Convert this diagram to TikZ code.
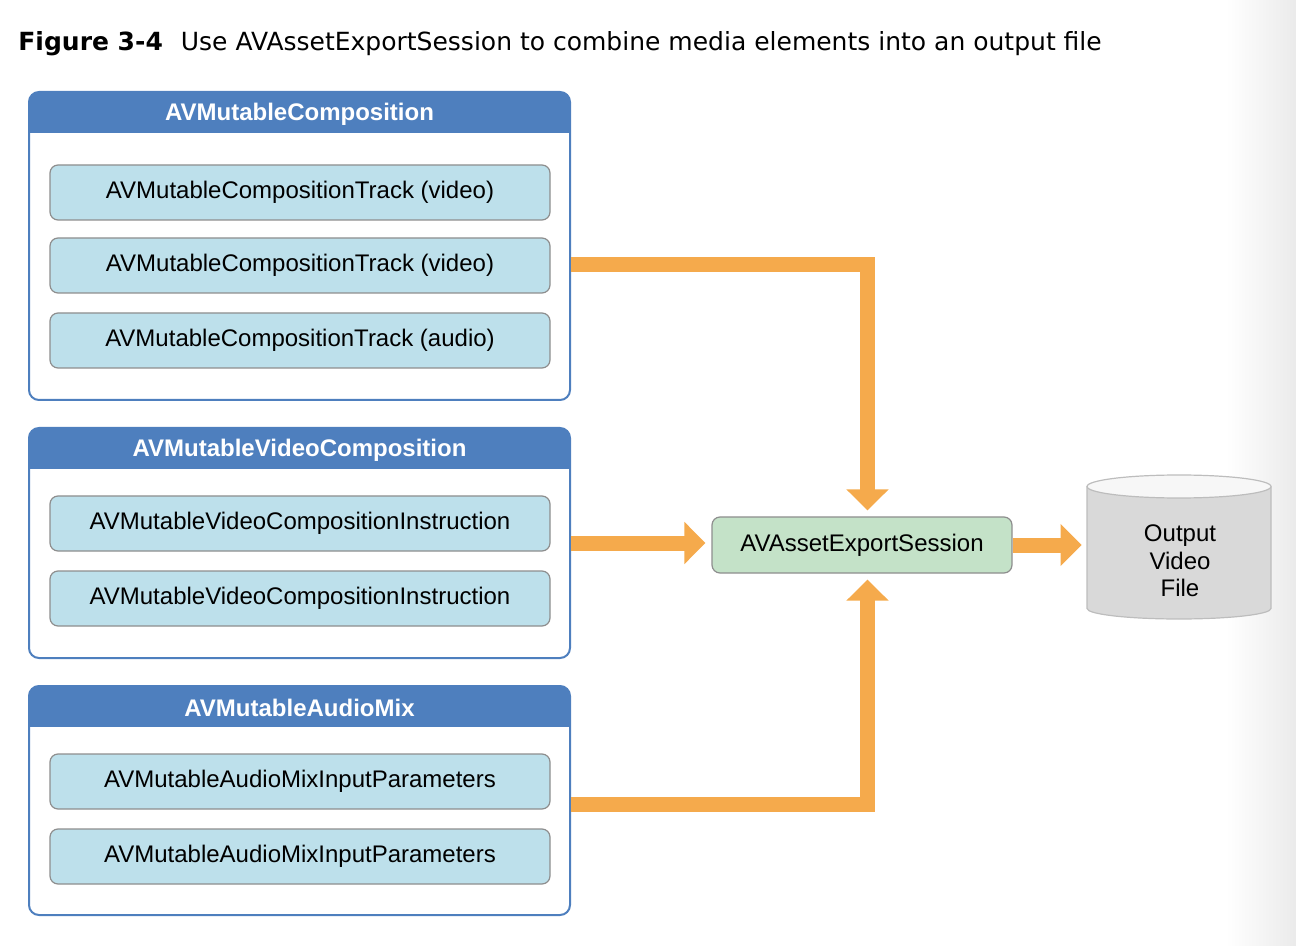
\documentclass[tikz,border=0pt]{standalone}
\usepackage{fontspec}
\setmainfont{Liberation Sans}
\newfontfamily\titlefont{DejaVu Sans}
\usetikzlibrary{arrows.meta}
\definecolor{hdrblue}{HTML}{4E7FBE}
\definecolor{trackfill}{HTML}{BDE0EB}
\definecolor{trackline}{HTML}{8E8E8E}
\definecolor{exportfill}{HTML}{C4E2C8}
\definecolor{flowcol}{HTML}{F5AA4C}
\definecolor{diskfill}{HTML}{D9D9D9}
\definecolor{diskline}{HTML}{BDBDBD}
\tikzset{
  groupbox/.style={draw=hdrblue, line width=1pt, rounded corners=5pt, minimum width=270.5pt, inner sep=0pt,
    path picture={\fill[hdrblue, sharp corners] (path picture bounding box.north west) rectangle ([yshift=-20.5pt]path picture bounding box.north east);}},
  grouptitle/.style={text=white, font=\bfseries\fontsize{12}{14}\selectfont},
  trackbox/.style={draw=trackline, fill=trackfill, line width=0.6pt, rounded corners=4pt, minimum width=250pt, minimum height=27.5pt, font=\fontsize{12}{14}\selectfont},
  flow/.style={draw=flowcol, line width=7.5pt, -{Triangle[width=20.5pt,length=10.5pt]}, shorten >=3pt}
}
\begin{document}
\begin{tikzpicture}[x=0.5pt, y=-0.5pt]
\useasboundingbox (0,0) rectangle (1296,946);
\shade[left color=white, right color=black!8] (1226,0) rectangle (1296,946);
\node[anchor=base west, inner sep=0pt, font=\titlefont\fontsize{12.5}{15}\selectfont] (title) at (18,51) {\textbf{Figure 3-4}\hspace{9pt}Use AVAssetExportSession to combine media elements into an output file};
\node[groupbox, minimum height=154pt] (comp) at (299.5,246) {};
\node[grouptitle] (compttl) at ([yshift=-11.5pt]comp.north) {AVMutableComposition};
\node[trackbox] (ctrack1) at (300,192.5) {AVMutableCompositionTrack (video)};
\node[trackbox] (ctrack2) at (300,265.5) {AVMutableCompositionTrack (video)};
\node[trackbox] (ctrack3) at (300,340.5) {AVMutableCompositionTrack (audio)};
\node[groupbox, minimum height=115pt] (vcomp) at (299.5,543) {};
\node[grouptitle] (vcompttl) at ([yshift=-11.5pt]vcomp.north) {AVMutableVideoComposition};
\node[trackbox] (vinstr1) at (300,523.5) {AVMutableVideoCompositionInstruction};
\node[trackbox] (vinstr2) at (300,598.5) {AVMutableVideoCompositionInstruction};
\node[groupbox, minimum height=114.5pt] (amix) at (299.5,800.5) {};
\node[grouptitle] (amixttl) at ([yshift=-11.5pt]amix.north) {AVMutableAudioMix};
\node[trackbox] (aparam1) at (300,781.5) {AVMutableAudioMixInputParameters};
\node[trackbox] (aparam2) at (300,856.5) {AVMutableAudioMixInputParameters};
\node[trackbox, fill=exportfill, minimum width=150pt, minimum height=28pt] (export) at (862,545) {AVAssetExportSession};
\draw[diskline, fill=diskfill, line width=0.6pt] (1087,486.5) -- (1087,608.5) arc[start angle=180, end angle=0, x radius=92, y radius=10.5] -- (1271,486.5);
\draw[diskline, fill=black!3, line width=0.6pt] (1179,486.5) ellipse [x radius=92, y radius=11.5];
\node[minimum width=92pt, minimum height=60pt, inner sep=0pt, align=center, font=\fontsize{12}{13.75}\selectfont] (file) at (1180,561) {Output\\Video\\File};
\draw[flow] ([yshift=0.5pt]comp.east |- ctrack2) -| ([xshift=2.75pt]export.north);
\draw[flow] (vcomp.east) -- (vcomp.east -| export.west);
\draw[flow] ([yshift=-2pt]amix.east) -| ([xshift=2.75pt]export.south);
\draw[flow] (export.east) -- (export.east -| file.west);
\end{tikzpicture}
\end{document}
